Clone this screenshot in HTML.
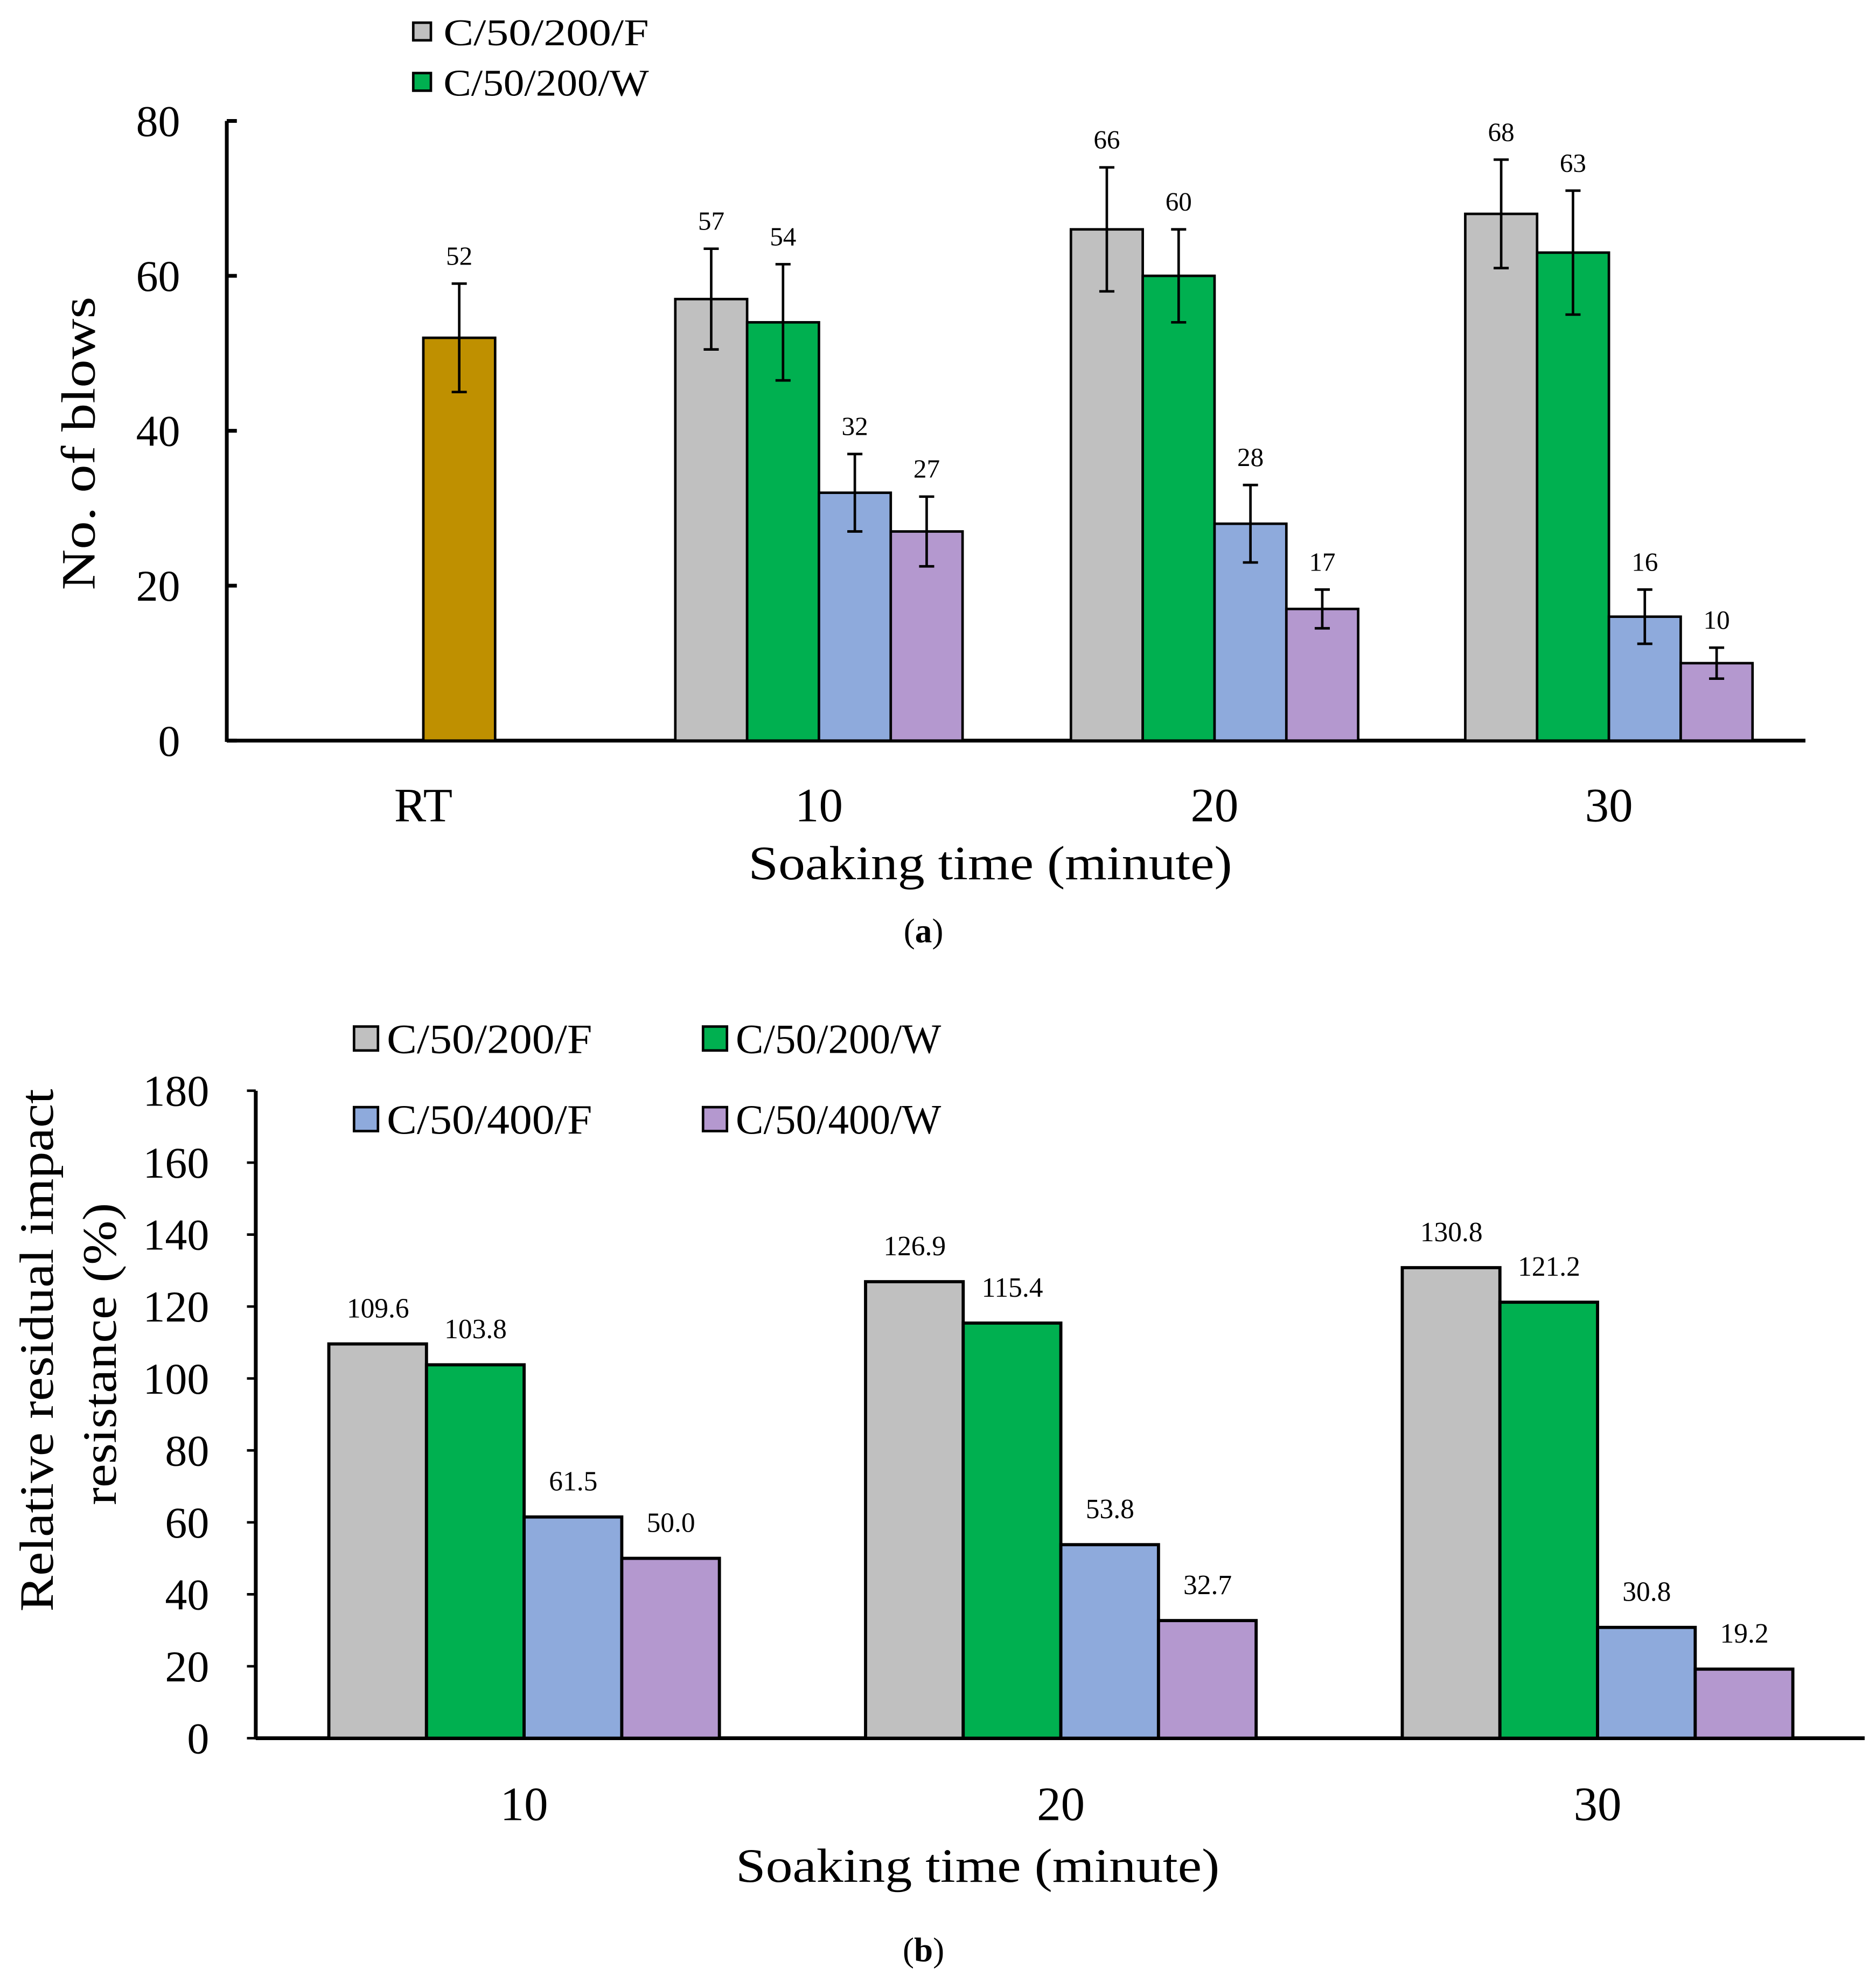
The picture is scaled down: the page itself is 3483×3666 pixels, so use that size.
<!DOCTYPE html>
<html><head><meta charset="utf-8"><style>html,body{margin:0;padding:0;background:#fff}svg{display:block}text{font-family:"Liberation Serif",serif;fill:#000}</style></head>
<body>
<svg id="s" width="3483" height="3666" viewBox="0 0 1489 1568" preserveAspectRatio="none" xmlns="http://www.w3.org/2000/svg"></svg>
<script>
const colors=["#c0c0c0","#00b050","#8eaadc","#b498cf"];
const aCats=["RT","10","20","30"];
const aRT=[52];const aRTerr=[7];
const aVals=[[57,54,32,27],[66,60,28,17],[68,63,16,10]];
const aErr=[[6.5,7.5,5,4.5],[8,6,5,2.5],[7,8,3.5,2]];
const aTicks=[0,20,40,60,80];
const bCats=["10","20","30"];
const bVals=[[109.6,103.8,61.5,50.0],[126.9,115.4,53.8,32.7],[130.8,121.2,30.8,19.2]];
const bTicks=[0,20,40,60,80,100,120,140,160,180];
const legendNames=["C/50/200/F","C/50/200/W","C/50/400/F","C/50/400/W"];
const S=document.getElementById('s');const NS="http://www.w3.org/2000/svg";
function el(t,a,txt){const e=document.createElementNS(NS,t);for(const k in a)e.setAttribute(k,a[k]);if(txt!==undefined)e.textContent=txt;S.appendChild(e);return e;}
// chart a
const ay=v=>588-v*6.15;const aCx=[336,650,964,1277];
let e;
e=el('line',{x1:180,y1:96,x2:180,y2:589,stroke:'#000','stroke-width':3});

e=el('line',{x1:180,y1:588,x2:1433,y2:588,stroke:'#000','stroke-width':3});

aTicks.forEach(t=>{el('line',{x1:180,y1:ay(t),x2:188,y2:ay(t),stroke:'#000','stroke-width':3});
e=el('text',{x:143,y:ay(t)+12,'font-size':35,'text-anchor':'end'},t);
});
function barA(x,v,err,c,lab){
 e=el('rect',{x:x,y:ay(v),width:57,height:ay(0)-ay(v),fill:c,stroke:'#000','stroke-width':2});
 
 const cx=x+28.5;el('line',{x1:cx,y1:ay(v-err),x2:cx,y2:ay(v+err),stroke:'#000','stroke-width':2});
 el('line',{x1:cx-6,y1:ay(v-err),x2:cx+6,y2:ay(v-err),stroke:'#000','stroke-width':2});
 el('line',{x1:cx-6,y1:ay(v+err),x2:cx+6,y2:ay(v+err),stroke:'#000','stroke-width':2});
 e=el('text',{x:cx,y:ay(v+err)-15,'font-size':21,'text-anchor':'middle'},lab);
 }
barA(aCx[0],aRT[0],aRTerr[0],'#bf9000',aRT[0]);
aVals.forEach((g,i)=>g.forEach((v,j)=>barA(aCx[i+1]-114+j*57,v,aErr[i][j],colors[j],v)));
aCats.forEach((c,i)=>{e=el('text',{x:aCx[i],y:652,'font-size':38,'text-anchor':'middle'},c);
});
e=el('text',{x:786,y:698,'font-size':38,'text-anchor':'middle',textLength:384,lengthAdjust:'spacingAndGlyphs'},'Soaking time (minute)');

e=el('text',{x:75,y:352,'font-size':38,'text-anchor':'middle',textLength:233,lengthAdjust:'spacingAndGlyphs',transform:'rotate(-90 75 352)'},'No. of  blows');

[0,1].forEach(i=>{e=el('rect',{x:328,y:18+i*40,width:14,height:14,fill:colors[i],stroke:'#000','stroke-width':2});

e=el('text',{x:352,y:36+i*40,'font-size':30,textLength:163,lengthAdjust:'spacingAndGlyphs'},legendNames[i]);
});
e=el('text',{x:733,y:748,'font-size':27,'text-anchor':'middle'});e.innerHTML='(<tspan font-weight="bold">a</tspan>)';

// chart b
const by=v=>1380-v*2.856;const bCx=[416,842,1268];
e=el('line',{x1:203,y1:866,x2:203,y2:1381,stroke:'#000','stroke-width':3});

e=el('line',{x1:203,y1:1380,x2:1480,y2:1380,stroke:'#000','stroke-width':3});

bTicks.forEach(t=>{el('line',{x1:196,y1:by(t),x2:203,y2:by(t),stroke:'#000','stroke-width':2});
e=el('text',{x:166,y:by(t)+12,'font-size':35,'text-anchor':'end'},t);
});
bVals.forEach((g,i)=>g.forEach((v,j)=>{const x=bCx[i]-155+j*77.5;
 e=el('rect',{x:x,y:by(v),width:77.5,height:by(0)-by(v),fill:colors[j],stroke:'#000','stroke-width':2.5});
 
 e=el('text',{x:x+39,y:by(v)-21,'font-size':22,'text-anchor':'middle'},v.toFixed(1));
 }));
bCats.forEach((c,i)=>{e=el('text',{x:bCx[i],y:1445,'font-size':38,'text-anchor':'middle'},c);
});
e=el('text',{x:776,y:1494,'font-size':38,'text-anchor':'middle',textLength:384,lengthAdjust:'spacingAndGlyphs'},'Soaking time (minute)');

e=el('text',{x:42,y:1072,'font-size':38,'text-anchor':'middle',textLength:415,lengthAdjust:'spacingAndGlyphs',transform:'rotate(-90 42 1072)'},'Relative residual impact');

e=el('text',{x:92,y:1075,'font-size':38,'text-anchor':'middle',textLength:240,lengthAdjust:'spacingAndGlyphs',transform:'rotate(-90 92 1075)'},'resistance (%)');

legendNames.forEach((n,i)=>{const lx=281+(i%2)*277,ly=815+Math.floor(i/2)*64;
e=el('rect',{x:lx,y:ly,width:19,height:19,fill:colors[i],stroke:'#000','stroke-width':2});

e=el('text',{x:lx+26,y:ly+21,'font-size':33,textLength:163,lengthAdjust:'spacingAndGlyphs'},n);
});
e=el('text',{x:733,y:1557,'font-size':27,'text-anchor':'middle'});e.innerHTML='(<tspan font-weight="bold">b</tspan>)';

</script>
</body></html>
